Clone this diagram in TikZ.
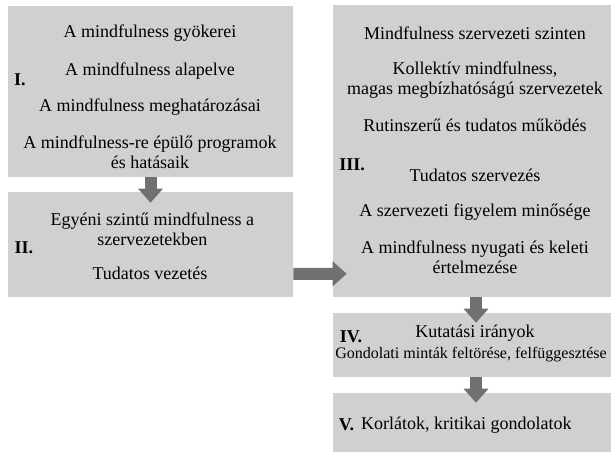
\documentclass[tikz,border=0pt]{standalone}
\usepackage{fontspec}
\setmainfont{Liberation Serif}
\usepackage{xcolor}
\usepackage{tikz}
\usetikzlibrary{arrows.meta}
\definecolor{boxgray}{RGB}{208,208,208}
\definecolor{arrgray}{RGB}{112,112,112}

\begin{document}
\begin{tikzpicture}[
  font=\fontsize{12.8}{14}\selectfont,
  box/.style={fill=boxgray,inner sep=0pt},
  txt/.style={align=center,inner sep=0pt},
  num/.style={font=\fontsize{12.8}{14}\selectfont\bfseries,inner sep=0pt},
  barr/.style={draw=arrgray,line width=0.3cm,
               -{Triangle[width=0.6cm,length=0.35cm,fill=arrgray]}}
]
\useasboundingbox (0,0) rectangle (15.275,-11.35);
% ---- the five boxes ----
\node[box,minimum width=7.125cm,minimum height=4.275cm] (bI)   at (3.7625,-2.2875) {};
\node[box,minimum width=7.125cm,minimum height=2.625cm] (bII)  at (3.7625,-6.1125) {};
\node[box,minimum width=6.95cm,minimum height=7.3cm]    (bIII) at (11.8,-3.775) {};
\node[box,minimum width=6.95cm,minimum height=1.6cm]    (bIV)  at (11.8,-8.625) {};
\node[box,minimum width=6.95cm,minimum height=1.475cm]  (bV)   at (11.8,-10.5625) {};

% ---- arrows between them ----
\draw[barr] (bI.south) -- ([yshift=-0.275cm]bII.north);
\draw[barr] ([yshift=0.5875cm]bII.south east) -- ([yshift=0.5875cm,xshift=0.35cm]bIII.south west);
\draw[barr] ([xshift=0.1cm]bIII.south) -- ([xshift=0.1cm,yshift=-0.25cm]bIV.north);
\draw[barr] ([xshift=0.1cm]bIV.south) -- ([xshift=0.1cm,yshift=-0.25cm]bV.north);

% ---- I. ----
\node[num] (nI) at (0.5,-2.0) {I.};
\node[txt] (t11) at (3.75,-0.825) {A mindfulness gyökerei};
\node[txt] (t12) at (3.75,-1.775) {A mindfulness alapelve};
\node[txt] (t13) at (3.75,-2.675) {A mindfulness meghatározásai};
\node[txt] (t14) at (3.75,-3.8125) {A mindfulness-re épülő programok\\és hatásaik};

% ---- II. ----
\node[num] (nII) at (0.6,-6.2) {II.};
\node[txt] (t21) at (3.81,-5.725) {Egyéni szintű mindfulness a\\szervezetekben};
\node[txt] (t22) at (3.75,-6.825) {Tudatos vezetés};

% ---- III. ----
\node[num] (nIII) at (8.8,-4.125) {III.};
\node[txt] (t31) at (11.875,-0.825) {Mindfulness szervezeti szinten};
\node[txt] (t32) at (11.875,-2.0) {Kollektív mindfulness,\\magas megbízhatóságú szervezetek};
\node[txt] (t33) at (11.875,-3.125) {Rutinszerű és tudatos működés};
\node[txt] (t34) at (11.875,-4.375) {Tudatos szervezés};
\node[txt] (t35) at (11.875,-5.3) {A szervezeti figyelem minősége};
\node[txt] (t36) at (11.875,-6.4375) {A mindfulness nyugati és keleti\\értelmezése};

% ---- IV. ----
\node[num] (nIV) at (8.775,-8.425) {IV.};
\node[txt] (t41) at (11.875,-8.325) {Kutatási irányok};
\node[txt,anchor=west,font=\fontsize{11.4}{13}\selectfont] (t42) at (8.375,-8.875)
  {Gondolati minták feltörése, felfüggesztése};

% ---- V. ----
\node[num] (nV) at (8.66,-10.625) {V.};
\node[txt] (t51) at (11.66,-10.625) {Korlátok, kritikai gondolatok};
\end{tikzpicture}
\end{document}
